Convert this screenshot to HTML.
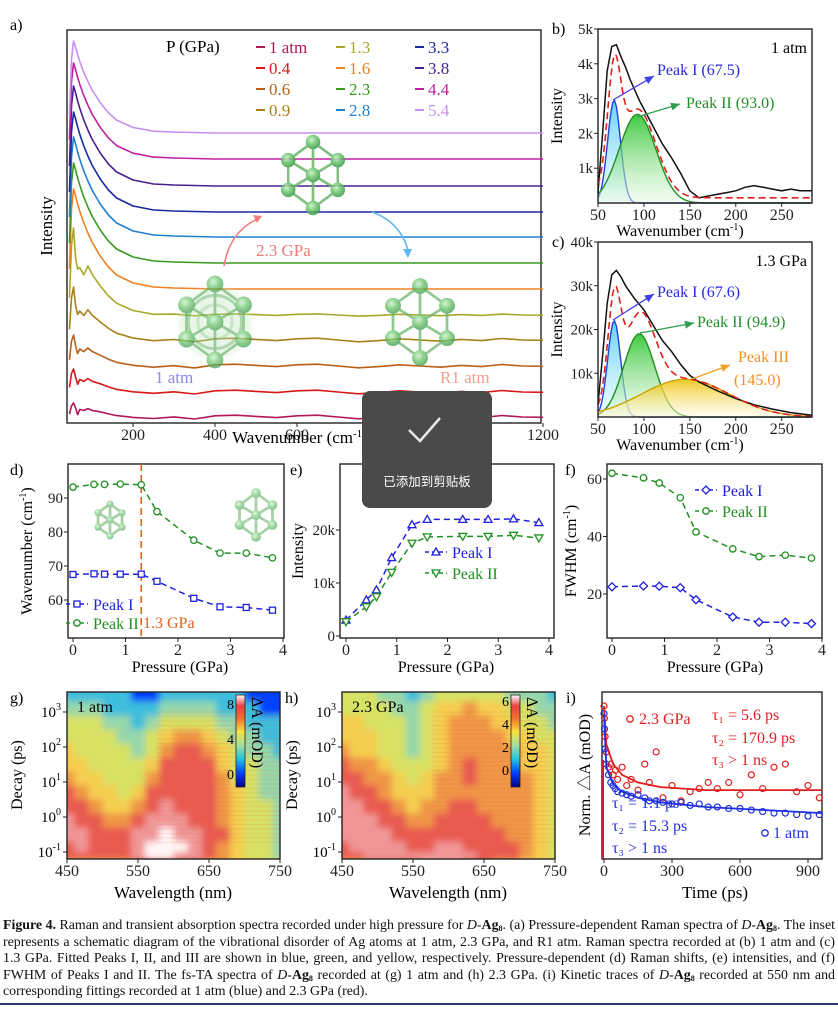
<!DOCTYPE html>
<html><head><meta charset="utf-8">
<style>
body{margin:0;background:#fff;}
#wrap{position:relative;width:838px;height:1010px;overflow:hidden;font-family:"Liberation Serif",serif;}
svg text{font-family:"Liberation Serif","Noto Sans CJK SC",serif;}
#cap{position:absolute;left:3px;top:918px;width:832px;font-size:13.9px;line-height:16.6px;text-align:justify;color:#111;font-family:"Liberation Serif",serif;}
#cap sub{font-size:8px;line-height:0;vertical-align:-2px;}
</style></head>
<body>
<div id="wrap">
<svg id="fig" width="838" height="912">
<defs>
<radialGradient id="ball" cx="40%" cy="35%" r="65%"><stop offset="0" stop-color="#c8f0c8"/><stop offset="0.5" stop-color="#6cc46c"/><stop offset="1" stop-color="#3a9a4a"/></radialGradient>
<linearGradient id="gI" x1="0" y1="0" x2="0" y2="1"><stop offset="0" stop-color="#40c8f0" stop-opacity=".8"/><stop offset="1" stop-color="#e0f8ff" stop-opacity=".5"/></linearGradient>
<linearGradient id="gII" x1="0" y1="0" x2="0" y2="1"><stop offset="0" stop-color="#20c020" stop-opacity=".85"/><stop offset="1" stop-color="#e8fbe8" stop-opacity=".5"/></linearGradient>
<linearGradient id="gIII" x1="0" y1="0" x2="0" y2="1"><stop offset="0" stop-color="#f0c000" stop-opacity=".85"/><stop offset="1" stop-color="#fffbe0" stop-opacity=".5"/></linearGradient>
<linearGradient id="cbar" x1="0" y1="1" x2="0" y2="0"><stop offset="0" stop-color="#000080"/><stop offset=".15" stop-color="#0040ff"/><stop offset=".3" stop-color="#20c0e0"/><stop offset=".45" stop-color="#a0e0a0"/><stop offset=".6" stop-color="#f8e040"/><stop offset=".75" stop-color="#f07030"/><stop offset=".88" stop-color="#e84040"/><stop offset="1" stop-color="#ffffff"/></linearGradient>
<filter id="blur2"><feGaussianBlur stdDeviation="2.2"/></filter>
<filter id="blurS" x="-10%" y="-10%" width="120%" height="120%"><feGaussianBlur stdDeviation="3.5"/></filter>
<clipPath id="clipG"><rect x="67" y="692" width="213" height="167"/></clipPath>
<clipPath id="clipH"><rect x="342" y="692" width="213" height="167"/></clipPath>
</defs>
<g id="root"></g>
</svg>
<div id="cap"><b>Figure 4.</b> Raman and transient absorption spectra recorded under high pressure for <i>D</i>-<b>Ag<sub>8</sub></b>. (a) Pressure-dependent Raman spectra of <i>D</i>-<b>Ag<sub>8</sub></b>. The inset represents a schematic diagram of the vibrational disorder of Ag atoms at 1 atm, 2.3 GPa, and R1 atm. Raman spectra recorded at (b) 1 atm and (c) 1.3 GPa. Fitted Peaks I, II, and III are shown in blue, green, and yellow, respectively. Pressure-dependent (d) Raman shifts, (e) intensities, and (f) FWHM of Peaks I and II. The fs-TA spectra of <i>D</i>-<b>Ag<sub>8</sub></b> recorded at (g) 1 atm and (h) 2.3 GPa. (i) Kinetic traces of <i>D</i>-<b>Ag<sub>8</sub></b> recorded at 550 nm and corresponding fittings recorded at 1 atm (blue) and 2.3 GPa (red).</div>
<div style="position:absolute;left:0;top:1003px;width:838px;height:2px;background:#2a3a6a"></div>
</div>
<script>
// ---------- data ----------
const aLabels=["1 atm","0.4","0.6","0.9","1.3","1.6","2.3","2.8","3.3","3.8","4.4","5.4"];
const aColors=["#b01858","#d81818","#b86018","#a88018","#a8a828","#f08020","#3a9a20","#2080d0","#1a2aa0","#4a2090","#c020a0","#c890f0"];
const aOffsets=[0,25,51,77,102,128,154,180,205,231,258,284];
const aAmps=[14,23,31,53,87,100,100,100,100,100,96,92];
const aRough=[1,1,1,1,0.6,0,0,0,0,0,0,0];
const aWn=[45,50,55,60,65,70,80,90,100,120,140,160,200,250,300,350,400,450,500,550,600,650,700,750,800,850,900,950,1000,1050,1100,1150,1200];
const aProfile=[0.2,0.8,1,0.93,0.85,0.78,0.66,0.56,0.47,0.33,0.22,0.14,0.06,0.02,0.01,0.005,0,0,0,0,0,0,0,0,0,0,0,0,0,0,0,0,0];
const aWiggle=[0,0,0,0,-0.4,-0.2,0,0.1,0,0.1,0,-0.1,-0.2,-0.3,0,-0.35,0.2,0.3,0.1,-0.1,0.2,0.3,0,-0.3,-0.1,0.2,0,-0.2,0.1,-0.1,0.25,0,-0.05];

const bWn=[50,55,60,65,70,75,80,85,90,95,100,110,120,125,130,140,150,160,170,180,190,200,210,220,230,240,250,260,270,283];
const bData=[300,2000,3800,4500,4550,4200,3900,3550,3250,2950,2700,2200,1700,1500,1300,850,350,150,200,250,300,350,450,500,450,400,350,400,350,350];
const bPeaks=[[67.5,2950,7],[93.0,2550,20]];
const bBase=150;
const cWn=[50,55,60,65,70,75,80,90,100,110,120,130,140,150,160,180,200,220,240,260,283];
const cData=[3000,14000,26000,32500,33500,32000,30000,27000,24500,21000,17500,15000,12000,9500,8000,6000,4200,2800,1800,1000,400];
const cPeaks=[[67.6,22000,7],[94.9,19000,17],[145.0,8600,48]];

const pD1=[0,0.4,0.6,0.9,1.3,1.6,2.3,2.8,3.3,3.8];
const dPeakI=[67.5,67.7,67.6,67.6,67.6,65.5,60.5,58,57.8,57];
const dPeakII=[93.2,94,94,94.1,93.9,86,77.6,73.8,73.8,72.4];
const ePeakI=[3000,6800,8700,14800,21000,22000,22000,22000,22100,21400];
const ePeakII=[2700,5500,7400,12000,17500,18700,18800,18800,19000,18500];
const pF=[0,0.6,0.9,1.3,1.6,2.3,2.8,3.3,3.8];
const fPeakI=[22.5,22.8,22.7,22.2,18,12,10.2,10.2,9.7];
const fPeakII=[62,60.4,58.6,53.5,41.6,35.7,33,33.5,32.5];

const gWl=[450,470,490,510,530,550,570,590,610,630,650,670,690,710,730,750];
const gLogT=[3.5,3.1,2.7,2.3,1.9,1.5,1.1,0.7,0.3,-0.1,-0.5,-0.9,-1.1,-1.3];
const gVals=[
[3,3,3,3,3,2,2,3,3,3,3,3,3,2,2,2],
[4,4,4,3,3,3,3,4,4,4,4,3,3,3,2,2],
[5,5,5,4,4,3,4,5,5,5,5,4,4,3,3,3],
[5,5,5,5,4,4,5,6,7,7,6,5,4,4,3,3],
[6,5,5,5,5,4,5,7,8,8,7,6,5,4,4,3],
[6,6,5,5,5,5,6,8,8,8,8,6,5,5,4,4],
[7,6,6,5,5,5,7,8,8,8,8,7,5,5,4,4],
[8,7,6,6,5,6,8,8,8,8,8,7,6,5,4,4],
[8,8,7,6,6,7,8,9,8,8,8,7,6,5,5,4],
[9,8,8,7,7,8,9,9,9,8,8,7,6,5,5,4],
[9,9,8,8,8,9,9,10,9,9,8,8,6,5,5,4],
[8,9,8,8,8,9,10,10,10,9,8,7,6,5,5,4],
[8,8,8,8,8,9,10,10,9,9,8,7,6,5,5,4],
[7,7,7,7,7,8,8,8,8,8,7,7,6,5,5,5]];
const hVals=[
[5,5,5,4,4,3,4,5,5,5,5,5,4,4,4,3],
[5,5,5,5,4,4,5,6,6,7,6,6,5,5,4,4],
[6,6,5,5,5,4,5,6,7,7,7,6,6,5,5,4],
[6,6,6,5,5,4,5,6,7,7,7,7,6,6,5,5],
[7,6,6,5,5,4,5,6,7,7,7,7,7,6,6,5],
[8,7,7,6,5,5,5,6,7,8,7,7,7,6,6,5],
[8,8,7,7,6,5,6,7,7,8,7,7,7,7,6,5],
[9,8,8,7,6,6,6,7,7,7,7,7,7,7,6,5],
[9,9,8,8,7,6,7,7,8,8,7,7,7,7,6,5],
[9,9,9,8,8,7,7,8,8,8,8,7,7,7,6,5],
[9,9,9,9,8,8,8,8,8,8,8,8,7,7,6,5],
[8,9,9,9,9,8,8,9,9,8,8,8,8,7,6,5],
[8,8,9,9,9,9,9,9,9,9,8,8,8,7,6,5],
[7,7,8,8,8,8,9,9,9,8,8,7,7,6,6,5]];

const iTimes=[0,2,5,10,20,30,40,50,60,80,100,120,150,180,200,230,260,300,340,380,420,460,500,550,600,650,700,750,800,850,900,950];
const iRed=[1.0,0.92,0.8,0.7,0.6,0.62,0.55,0.58,0.52,0.6,0.48,0.52,0.45,0.62,0.5,0.7,0.4,0.48,0.38,0.44,0.46,0.5,0.46,0.5,0.42,0.55,0.46,0.6,0.62,0.44,0.48,0.4];
const iBlue=[0.95,0.85,0.72,0.62,0.55,0.5,0.48,0.46,0.44,0.43,0.42,0.41,0.42,0.4,0.38,0.38,0.37,0.36,0.37,0.35,0.36,0.34,0.34,0.33,0.33,0.32,0.31,0.3,0.3,0.29,0.28,0.29];
const iRedFit=[1.0,0.75,0.62,0.55,0.5,0.47,0.45,0.45,0.45];
const iBlueFit=[0.95,0.6,0.49,0.44,0.4,0.37,0.34,0.32,0.3];
const iFitT=[0,10,40,80,150,250,450,700,1000];

// ---------- helpers ----------
const NS="http://www.w3.org/2000/svg";
const root=document.getElementById('root');
function mk(tag,attrs,parent){const e=document.createElementNS(NS,tag);for(const k in attrs)e.setAttribute(k,attrs[k]);(parent||root).appendChild(e);return e;}
function txt(x,y,s,attrs,name){const e=mk('text',Object.assign({x:x,y:y},attrs||{}));e.textContent=s;


return e;}
function lin(a0,a1,p0,p1){return v=>p0+(v-a0)*(p1-p0)/(a1-a0);}
function frame(x,y,w,h,name){const r=mk('rect',{x:x,y:y,width:w,height:h,fill:'none',stroke:'#222','stroke-width':1.4});

}
function xticks(vals,sx,y,labels,name,minor){vals.forEach((v,i)=>{const t=mk('line',{x1:sx(v),x2:sx(v),y1:y,y2:y+4,stroke:'#222'});


txt(sx(v),y+17,labels[i],{'font-size':16,'text-anchor':'middle',fill:'#222'},name+'-label');});}
function yticks(vals,sy,x,labels,name){vals.forEach((v,i)=>{const t=mk('line',{x1:x,x2:x-4,y1:sy(v),y2:sy(v),stroke:'#222'});


txt(x-5,sy(v)+5,labels[i],{'font-size':15,'text-anchor':'end',fill:'#222'},name+'-label');});}
function gauss(x,p){return p[1]*Math.exp(-((x-p[0])**2)/(2*p[2]*p[2]));}

// ---------- panel a ----------
txt(10,30,"a)",{'font-size':16},'panel-a-label');
frame(67,30,474,393,'panel-a-frame');
const ax=lin(200,1200,133,543);
xticks([200,400,600,800,1000,1200],ax,423,["200","400","600","800","1000","1200"],'a-x-axis');
txt(300,443,"Wavenumber (cm",{'font-size':17,'text-anchor':'middle'},'a-x-axis-title').innerHTML='Wavenumber (cm<tspan font-size="11" dy="-6">-1</tspan><tspan dy="6">)</tspan>';
txt(52,226,"Intensity",{'font-size':17,'text-anchor':'middle',transform:'rotate(-90 52 226)'},'a-y-axis-title');
aLabels.forEach((lab,k)=>{
  const base=417-aOffsets[k];
  let pts=[];
  for(let i=0;i<aWn.length;i++){
    let w=aWn[i];
    let y=base-aAmps[k]*aProfile[i]-aRough[k]*6*aWiggle[i];
    if(k<5&&w>=60&&w<=80)y=base-aAmps[k]*aProfile[i]*0.7+ (w==65?6:0);
    pts.push(Math.max(ax(w),68)+","+y.toFixed(1));
  }
  const p=mk('polyline',{points:pts.join(" "),fill:'none',stroke:aColors[k],'stroke-width':1.6,'stroke-linejoin':'round'});
  
  
});
txt(166,52,"P (GPa)",{'font-size':17},'legend-title');
aLabels.forEach((lab,k)=>{
  const col=Math.floor(k/4),row=k%4;
  const x=[256,336,415][col],y=47+row*21;
  const l=mk('line',{x1:x,x2:x+9,y1:y,y2:y,stroke:aColors[k],'stroke-width':2});
  
  
  txt(x+13,y+6,lab,{'font-size':17,fill:aColors[k]},'legend-entry');
});
function cluster(cx,cy,s,name,ring,op){
  const g=mk('g',{opacity:op||0.85});
  
  
  const pts=[[0,-1],[0.75,-0.45],[0.75,0.45],[0,1],[-0.75,0.45],[-0.75,-0.45],[0,0]];
  if(ring){mk('circle',{cx:cx,cy:cy,r:s*0.95,fill:'#bfe8bf',opacity:.5,filter:'url(#blur2)'},g);mk('circle',{cx:cx,cy:cy,r:s*0.7,fill:'none',stroke:'#6cb46c','stroke-width':3,opacity:.7},g);mk('circle',{cx:cx,cy:cy,r:s*0.45,fill:'none',stroke:'#8ccc8c','stroke-width':3,opacity:.6},g);}
  pts.forEach(a=>pts.forEach(b=>{if(a!==b&&Math.hypot(a[0]-b[0],a[1]-b[1])<1.1)mk('line',{x1:cx+a[0]*s,y1:cy+a[1]*s,x2:cx+b[0]*s,y2:cy+b[1]*s,stroke:'#6cb46c','stroke-width':2.5},g);}));
  pts.forEach(a=>mk('circle',{cx:cx+a[0]*s,cy:cy+a[1]*s,r:s*0.22,fill:'url(#ball)'},g));
}
cluster(313,175,33,'cluster-2.3gpa',false);
cluster(215,322,38,'cluster-1atm',true,0.7);
cluster(420,322,36,'cluster-r1atm',false,0.75);
const ar1=mk('path',{d:'M224 266 Q230 230 260 218',fill:'none',stroke:'#f08080','stroke-width':1.6});


mk('path',{d:'M262 216 l-9 -1 l4 8z',fill:'#f08080'});
const ar2=mk('path',{d:'M372 212 Q400 222 408 250',fill:'none',stroke:'#60b8f0','stroke-width':1.6});


mk('path',{d:'M408 258 l-5 -9 l9 0z',fill:'#60b8f0'});
txt(256,256,"2.3 GPa",{'font-size':17,fill:'#f07878'},'label-2.3gpa');
txt(155,383,"1 atm",{'font-size':17,fill:'#8888f0'},'label-1atm');
txt(440,383,"R1 atm",{'font-size':17,fill:'#f0a090'},'label-r1atm');

// ---------- panels b,c ----------
function ramanPanel(top,bot,ymax,data,wn,peaks,base,fills,label,ticks,tlabels,pref,panelLetter){
  const sx=lin(50,283,598,812), sy=lin(0,ymax,bot,top);
  txt(552,top+5,panelLetter,{'font-size':16},'panel-'+pref+'-label');
  const fillsN=['peak-i-fill','peak-ii-fill','peak-iii-fill'];
  peaks.forEach((p,i)=>{
    let d="M"+sx(50)+","+sy(0);let d2="";
    for(let w=50;w<=283;w+=2){const y=sy(gauss(w,p));d+=" L"+sx(w).toFixed(1)+","+y.toFixed(1);d2+=(d2?" L":"M")+sx(w).toFixed(1)+","+y.toFixed(1);}
    d+=" L"+sx(283)+","+sy(0)+"Z";
    const f=mk('path',{d:d,fill:fills[i]});
    
    
    const l=mk('path',{d:d2,fill:'none',stroke:i==2?'#d0a000':(i==0?'#2040e0':'#209020'),'stroke-width':1.4});
    
    
  });
  let dd="";
  for(let i=0;i<wn.length;i++)dd+=(i?" L":"M")+sx(wn[i]).toFixed(1)+","+sy(data[i]).toFixed(1);
  const bl=mk('path',{d:dd,fill:'none',stroke:'#111','stroke-width':1.5});
  
  
  let fd="";
  for(let w=50;w<=283;w+=2){let s=base;peaks.forEach(p=>s+=gauss(w,p));fd+=(fd?" L":"M")+sx(w).toFixed(1)+","+sy(s).toFixed(1);}
  const fl=mk('path',{d:fd,fill:'none',stroke:'#e02020','stroke-width':1.6,'stroke-dasharray':'7 4'});
  
  
  frame(598,top,214,bot-top,'panel-'+pref+'-frame');
  xticks([50,100,150,200,250],sx,bot,["50","100","150","200","250"],pref+'-x-axis');
  yticks(ticks,sy,598,tlabels,pref+'-y-axis');
  const t=txt(680,bot+33,"",{'font-size':16,'text-anchor':'middle'},pref+'-x-axis-title');
  t.innerHTML='Wavenumber (cm<tspan font-size="10" dy="-6">-1</tspan><tspan dy="6">)</tspan>';
  txt(562,(top+bot)/2,"Intensity",{'font-size':16,'text-anchor':'middle',transform:'rotate(-90 562 '+((top+bot)/2)+')'},pref+'-y-axis-title');
  txt(807,top+24,label,{'font-size':16,'text-anchor':'end'},pref+'-condition-label');
}
ramanPanel(29,203,5000,bData,bWn,bPeaks,bBase,['url(#gI)','url(#gII)'],"1 atm",[1000,2000,3000,4000,5000],["1k","2k","3k","4k","5k"],'b','b)');
function arrow(x1,y1,x2,y2,c,name){const l=mk('line',{x1:x1,y1:y1,x2:x2,y2:y2,stroke:c,'stroke-width':1.3});


const a=Math.atan2(y2-y1,x2-x1);mk('path',{d:`M${x2},${y2} L${x2-9*Math.cos(a)+4*Math.sin(a)},${y2-9*Math.sin(a)-4*Math.cos(a)} L${x2-9*Math.cos(a)-4*Math.sin(a)},${y2-9*Math.sin(a)+4*Math.cos(a)}Z`,fill:c});}
arrow(613,100,654,76,'#4040e8','b-peak-i-arrow');
txt(657,75,"Peak I (67.5)",{'font-size':16,fill:'#2828e0'},'b-peak-i-label');
arrow(637,117,680,104,'#30a050','b-peak-ii-arrow');
txt(686,108,"Peak II (93.0)",{'font-size':16,fill:'#20902a'},'b-peak-ii-label');
ramanPanel(242,417,40000,cData,cWn,cPeaks,0,['url(#gI)','url(#gII)','url(#gIII)'],"1.3 GPa",[10000,20000,30000,40000],["10k","20k","30k","40k"],'c','c)');
arrow(613,320,654,294,'#4040e8','c-peak-i-arrow');
txt(657,297,"Peak I (67.6)",{'font-size':16,fill:'#2828e0'},'c-peak-i-label');
arrow(640,333,694,323,'#30a050','c-peak-ii-arrow');
txt(697,327,"Peak II (94.9)",{'font-size':16,fill:'#20902a'},'c-peak-ii-label');
arrow(692,379,730,365,'#f0a020','c-peak-iii-arrow');
txt(738,362,"Peak III",{'font-size':16,fill:'#f09020'},'c-peak-iii-label');
txt(734,385,"(145.0)",{'font-size':16,fill:'#f09020'},'c-peak-iii-value');

// ---------- panels d,e,f ----------
function marker(shape,x,y,c,g){
  let e;
  if(shape=='sq')e=mk('rect',{x:x-3,y:y-3,width:6,height:6,fill:'#fff',stroke:c,'stroke-width':1.3},g);
  else if(shape=='ci')e=mk('circle',{cx:x,cy:y,r:3.2,fill:'#fff',stroke:c,'stroke-width':1.3},g);
  else if(shape=='tu')e=mk('path',{d:`M${x},${y-4} L${x+4},${y+3} L${x-4},${y+3}Z`,fill:'#fff',stroke:c,'stroke-width':1.3},g);
  else if(shape=='td')e=mk('path',{d:`M${x},${y+4} L${x+4},${y-3} L${x-4},${y-3}Z`,fill:'#fff',stroke:c,'stroke-width':1.3},g);
  else e=mk('path',{d:`M${x},${y-4} L${x+4},${y} L${x},${y+4} L${x-4},${y}Z`,fill:'#fff',stroke:c,'stroke-width':1.3},g);
  
  
}
function series(xs,ys,sx,sy,c,shape,name){
  const d=xs.map((x,i)=>(i?'L':'M')+sx(x).toFixed(1)+','+sy(ys[i]).toFixed(1)).join(' ');
  const p=mk('path',{d:d,fill:'none',stroke:c,'stroke-width':1.5,'stroke-dasharray':'6 4'});
  
  
  xs.forEach((x,i)=>marker(shape,sx(x),sy(ys[i]),c));
}
function legendEntry(x,y,c,shape,label,name){const l=mk('line',{x1:x,x2:x+22,y1:y,y2:y,stroke:c,'stroke-width':1.5,'stroke-dasharray':'4 3'});


marker(shape,x+11,y,c);txt(x+27,y+6,label,{'font-size':16,fill:c},name);}
const BL='#2020e0',GR='#209020';
{const sx=lin(0,4,73,283),sy=lin(60,90,600,498);
txt(10,475,"d)",{'font-size':16},'panel-d-label');
frame(68,464,216,174,'panel-d-frame');
const vl=mk('line',{x1:sx(1.3),x2:sx(1.3),y1:464,y2:638,stroke:'#e06020','stroke-width':1.6,'stroke-dasharray':'7 4'});


series(pD1,dPeakI,sx,sy,BL,'sq','d-peak-i-line');
series(pD1,dPeakII,sx,sy,GR,'ci','d-peak-ii-line');
xticks([0,1,2,3,4],sx,638,["0","1","2","3","4"],'d-x-axis');
yticks([60,70,80,90],sy,68,["60","70","80","90"],'d-y-axis');
const yt=txt(32,551,"",{'font-size':16,'text-anchor':'middle',transform:'rotate(-90 32 551)'},'d-y-axis-title');yt.innerHTML='Wavenumber (cm<tspan font-size="10" dy="-6">-1</tspan><tspan dy="6">)</tspan>';
txt(180,672,"Pressure (GPa)",{'font-size':16,'text-anchor':'middle'},'d-x-axis-title');
legendEntry(66,604,BL,'sq','Peak I','d-legend-peak-i');
legendEntry(66,623,GR,'ci','Peak II','d-legend-peak-ii');
txt(143,628,"1.3 GPa",{'font-size':16,fill:'#e06020'},'d-1.3gpa-label');
cluster(110,520,16,'d-cluster-low',false,0.6);
cluster(256,515,22,'d-cluster-high',false,0.6);
}
{const sx=lin(0,4,346,549),sy=lin(0,20000,636,530);
txt(290,475,"e)",{'font-size':16},'panel-e-label');
frame(340,464,214,174,'panel-e-frame');
series(pD1,ePeakI,sx,sy,BL,'tu','e-peak-i-line');
series(pD1,ePeakII,sx,sy,GR,'td','e-peak-ii-line');
xticks([0,1,2,3,4],sx,638,["0","1","2","3","4"],'e-x-axis');
yticks([0,10000,20000],sy,340,["0","10k","20k"],'e-y-axis');
txt(303,551,"Intensity",{'font-size':16,'text-anchor':'middle',transform:'rotate(-90 303 551)'},'e-y-axis-title');
txt(446,672,"Pressure (GPa)",{'font-size':16,'text-anchor':'middle'},'e-x-axis-title');
legendEntry(425,552,BL,'tu','Peak I','e-legend-peak-i');
legendEntry(425,573,GR,'td','Peak II','e-legend-peak-ii');
}
{const sx=lin(0,4,612,822),sy=lin(20,60,594,479);
txt(565,475,"f)",{'font-size':16},'panel-f-label');
frame(607,464,215,174,'panel-f-frame');
series(pF,fPeakI,sx,sy,BL,'di','f-peak-i-line');
series(pF,fPeakII,sx,sy,GR,'ci','f-peak-ii-line');
xticks([0,1,2,3,4],sx,638,["0","1","2","3","4"],'f-x-axis');
yticks([20,40,60],sy,607,["20","40","60"],'f-y-axis');
const yt=txt(576,551,"",{'font-size':16,'text-anchor':'middle',transform:'rotate(-90 576 551)'},'f-y-axis-title');yt.innerHTML='FWHM (cm<tspan font-size="10" dy="-6">-1</tspan><tspan dy="6">)</tspan>';
txt(715,672,"Pressure (GPa)",{'font-size':16,'text-anchor':'middle'},'f-x-axis-title');
legendEntry(695,490,BL,'di','Peak I','f-legend-peak-i');
legendEntry(695,511,GR,'ci','Peak II','f-legend-peak-ii');
}

// ---------- heatmaps ----------
const cmapStops=[[0,[0,0,128]],[2,[0,64,255]],[3,[60,190,220]],[4,[150,215,170]],[5,[215,225,100]],[6,[245,205,80]],[7,[240,150,70]],[8,[232,90,80]],[9,[240,150,150]],[10,[255,245,245]]];
function cmap(v){for(let i=1;i<cmapStops.length;i++){if(v<=cmapStops[i][0]){const a=cmapStops[i-1],b=cmapStops[i],t=(v-a[0])/(b[0]-a[0]);return 'rgb('+a[1].map((c,k)=>Math.round(c+(b[1][k]-c)*t)).join(',')+')';}}return 'rgb(255,245,245)';}
function heatmap(x0,vals,clip,pref,label,cbMax,cbTicks){
  const sx=lin(450,750,x0,x0+213),sy=lin(3,-1,712,852);
  const g=mk('g',{'clip-path':clip});
  
  
  const g2=mk('g',{filter:'url(#blurS)'},g);
  const cw=sx(470)-sx(450);
  vals.forEach((row,r)=>{const yA=r==0?680:(sy(gLogT[r])+sy(gLogT[r-1]))/2,yB=r==vals.length-1?870:(sy(gLogT[r])+sy(gLogT[r+1]))/2;
    row.forEach((v,c)=>{const xA=c==0?x0-12:sx(gWl[c])-cw/2,xB=c==row.length-1?x0+226:sx(gWl[c])+cw/2;
    const cell=mk('rect',{x:xA,y:yA,width:xB-xA+1,height:yB-yA+1,fill:cmap(v)},g2);
    
    });});
  for(let k=0;k<30;k++){const s=mk('line',{x1:x0+90,x2:x0+213,y1:712+k*4.5,y2:712+k*4.5,stroke:'#e06040','stroke-width':0.8,opacity:0.2},g);
  
  }
  frame(x0,692,213,167,pref+'-frame');
  xticks([450,550,650,750],sx,859,["450","550","650","750"],pref+'-x-axis');
  [3,2,1,0,-1].forEach(e=>{const y=sy(e);const t=mk('line',{x1:x0,x2:x0-4,y1:y,y2:y,stroke:'#222'});
    
    
    const l=txt(x0-6,y+5,"",{'font-size':15,'text-anchor':'end'},pref+'-y-label');l.innerHTML='10<tspan font-size="10" dy="-7">'+(e<0?'-1':e)+'</tspan>';});
  txt(x0+10,712,label,{'font-size':16},pref+'-condition-label');
  const cb=mk('rect',{x:x0+169,y:695,width:9,height:92,fill:'url(#cbar)',stroke:'#222','stroke-width':0.8});
  
  
  cbTicks.forEach(v=>{const y=787-(v+1.5)/(cbMax+1.5)*92;txt(x0+167,y+5,String(v),{'font-size':14,'text-anchor':'end'},pref+'-colorbar-label');});
  const ct=txt(x0+185,697,"",{'font-size':16,transform:`rotate(90 ${x0+185} 697)`},pref+'-colorbar-title');ct.innerHTML='ΔA (mOD)';
  txt(x0+106,898,"Wavelength (nm)",{'font-size':17,'text-anchor':'middle'},pref+'-x-axis-title');
  txt(x0-45,775,"Decay (ps)",{'font-size':16,'text-anchor':'middle',transform:`rotate(-90 ${x0-45} 775)`},pref+'-y-axis-title');
}
txt(10,703,"g)",{'font-size':16},'panel-g-label');
heatmap(67,gVals,'url(#clipG)','g',"1 atm",9,[0,4,8]);
txt(285,703,"h)",{'font-size':16},'panel-h-label');
heatmap(342,hVals,'url(#clipH)','h',"2.3 GPa",6.5,[0,2,4,6]);

// ---------- panel i ----------
{const sx=lin(0,900,604,808),sy=lin(0,1,859,706);
txt(566,703,"i)",{'font-size':16},'panel-i-label');
frame(602,692,220,167,'panel-i-frame');
iTimes.forEach((t,k)=>{const c1=mk('circle',{cx:sx(t),cy:sy(iRed[k]),r:3,fill:'none',stroke:'#e02020','stroke-width':1.2});


const c2=mk('circle',{cx:sx(t),cy:sy(iBlue[k]),r:3,fill:'none',stroke:'#2030e0','stroke-width':1.2});

});
function fit(vals,c,name){const d=iFitT.map((t,i)=>(i?'L':'M')+Math.min(sx(t),822).toFixed(1)+','+sy(vals[i]).toFixed(1)).join(' ');
const p=mk('path',{d:d,fill:'none',stroke:c,'stroke-width':1.8});

}
fit(iRedFit,'#e02020','fit-2.3gpa');fit(iBlueFit,'#2030e0','fit-1atm');
const vl=mk('line',{x1:603,x2:603,y1:760,y2:859,stroke:'#c02040','stroke-width':2});


xticks([0,300,600,900],sx,859,["0","300","600","900"],'i-x-axis');
txt(715,898,"Time  (ps)",{'font-size':17,'text-anchor':'middle'},'i-x-axis-title');
txt(590,775,"Norm. △A (mOD)",{'font-size':16,'text-anchor':'middle',transform:'rotate(-90 590 775)'},'i-y-axis-title');
marker('ci',630,719,'#e02020');txt(639,724,"2.3 GPa",{'font-size':16,fill:'#e02020'},'i-legend-2.3gpa');
marker('ci',765,833,'#2030e0');txt(773,838,"1 atm",{'font-size':16,fill:'#2030e0'},'i-legend-1atm');
[["τ₁ =  5.6 ps",716],["τ₂ =  170.9 ps",739],["τ₃ > 1 ns",761]].forEach((a,i)=>txt(712,a[1]+4,a[0],{'font-size':16,fill:'#e02020'},'i-red-tau-'+(i+1)));
[["τ₁ = 1.1 ps",808],["τ₂ = 15.3 ps",831],["τ₃ > 1 ns",853]].forEach((a,i)=>txt(612,a[1],a[0],{'font-size':16,fill:'#2030e0'},'i-blue-tau-'+(i+1)));
}

// ---------- toast overlay ----------
{const g=mk('g',{});


mk('rect',{x:362,y:391,width:130,height:117,rx:8,fill:'#4a4a4a'},g);
mk('path',{d:'M409 430 L420 441 L440 418',fill:'none',stroke:'#e8e8e8','stroke-width':2.5},g);
const t=mk('text',{x:427,y:486,'font-size':12.5,'text-anchor':'middle',fill:'#fff'},g);t.textContent='已添加到剪贴板';

}
</script>
</body></html>
